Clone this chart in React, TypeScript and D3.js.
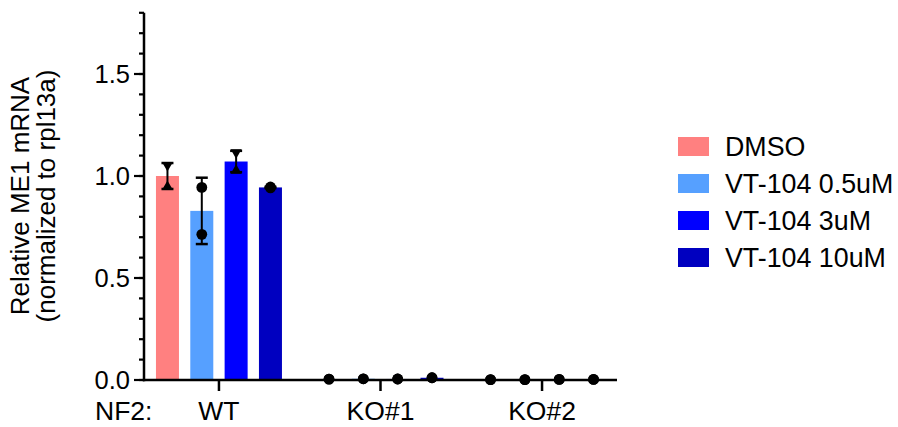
import React from "react";
import * as d3 from "d3";

// Cell lines (NF2 genotype) and treatment series
const groups = ["WT", "KO#1", "KO#2"];
const series = ["DMSO", "VT-104 0.5uM", "VT-104 3uM", "VT-104 10uM"];
const seriesColors = ["#FF8080", "#56A0FF", "#0000FF", "#0000C0"];
// replicate marker shapes per series: c = circle, u = triangle up, d = triangle down
const seriesMarkers = [["d", "u"], ["c", "c"], ["d", "u"], ["c", "c"]];

// replicate values: [group][series][replicate]
const replicates: number[][][] = [
  [[1.045, 0.955], [0.944, 0.714], [1.108, 1.034], [0.946, 0.942]],
  [[0.004, 0.004], [0.006, 0.006], [0.005, 0.005], [0.011, 0.011]],
  [[0.002, 0.002], [0.002, 0.002], [0.003, 0.003], [0.003, 0.003]],
];

const yMajorTicks = [0, 0.5, 1.0, 1.5];
const yMinorTicks = d3.range(0, 19).map((i) => i / 10);

const W = 898;
const H = 427;
const FONT = "'Liberation Sans', Arial, Helvetica, sans-serif";

export default function App() {
  const axisX = 144;
  const axisY = 380;
  const y = d3.scaleLinear().domain([0, 1.8]).range([axisY, axisY - 1.8 * 204]);
  const x0 = d3.scalePoint<string>().domain(groups).range([axisX, 617]).padding(0.464);
  const x1 = d3.scaleBand<string>().domain(series).range([-63, 63]).paddingInner(0.33).paddingOuter(0);
  const bw = x1.bandwidth();

  const tri = (cx: number, cy: number, dir: string) => {
    const hw = 5.5;
    const hh = 4.8;
    return dir === "u"
      ? `M${cx},${cy - hh}L${cx + hw},${cy + hh}L${cx - hw},${cy + hh}Z`
      : `M${cx},${cy + hh}L${cx + hw},${cy - hh}L${cx - hw},${cy - hh}Z`;
  };

  return (
    <svg
      width={W}
      height={H}
      style={{ position: "absolute", left: 0, top: 0, background: "#fff" }}
      fontFamily={FONT}
    >
      {/* bars, error bars and replicate points */}
      {groups.map((g, gi) => (
        <g key={g}>
          {series.map((s, si) => {
            const vals = replicates[gi][si];
            const mean = d3.mean(vals) as number;
            const sd = d3.deviation(vals) ?? 0;
            const cx = (x0(g) as number) + (x1(s) as number) + bw / 2;
            const capW = 12;
            return (
              <g key={s}>
                <rect
                  x={cx - bw / 2}
                  y={y(mean)}
                  width={bw}
                  height={axisY - y(mean)}
                  fill={seriesColors[si]}
                />
                {sd > 0.001 && (
                  <g>
                    <line x1={cx} x2={cx} y1={y(mean + sd)} y2={y(mean - sd)} stroke="#000" strokeWidth={2} />
                    <line x1={cx - capW / 2} x2={cx + capW / 2} y1={y(mean + sd)} y2={y(mean + sd)} stroke="#000" strokeWidth={2.5} />
                    <line x1={cx - capW / 2} x2={cx + capW / 2} y1={y(mean - sd)} y2={y(mean - sd)} stroke="#000" strokeWidth={2.5} />
                  </g>
                )}
                {vals.map((v, ri) => {
                  const m = seriesMarkers[si][ri];
                  return m === "c" || sd <= 0.001 ? (
                    <circle key={ri} cx={cx} cy={y(v)} r={5.4} fill="#000" />
                  ) : (
                    <path key={ri} d={tri(cx, y(v), m)} fill="#000" />
                  );
                })}
              </g>
            );
          })}
        </g>
      ))}

      {/* y axis */}
      <line x1={axisX} x2={axisX} y1={y(1.8)} y2={axisY + 1.2} stroke="#000" strokeWidth={2.5} />
      {yMinorTicks.map((t) => (
        <line key={"m" + t} x1={axisX - 5} x2={axisX} y1={y(t)} y2={y(t)} stroke="#000" strokeWidth={2.2} />
      ))}
      {yMajorTicks.map((t) => (
        <g key={"M" + t}>
          <line x1={axisX - 10} x2={axisX} y1={y(t)} y2={y(t)} stroke="#000" strokeWidth={2.2} />
          <text x={130} y={y(t)} dy="0.36em" textAnchor="end" fontSize={25.5} fill="#000">
            {d3.format(".1f")(t)}
          </text>
        </g>
      ))}

      {/* x axis */}
      <line x1={axisX - 1.2} x2={617} y1={axisY} y2={axisY} stroke="#000" strokeWidth={2.5} />
      {groups.map((g) => (
        <g key={"xt" + g}>
          <line x1={x0(g)} x2={x0(g)} y1={axisY} y2={axisY + 11} stroke="#000" strokeWidth={2.5} />
          <text x={x0(g)} y={420} textAnchor="middle" fontSize={26.5} fill="#000">
            {g}
          </text>
        </g>
      ))}
      <text x={95} y={420} fontSize={26.5} fill="#000">
        NF2:
      </text>

      {/* y axis title */}
      <g transform="translate(29,196) rotate(-90)">
        <text x={0} y={0} textAnchor="middle" fontSize={26} fill="#000">
          Relative ME1 mRNA
        </text>
        <text x={0} y={26} textAnchor="middle" fontSize={26} fill="#000">
          (normalized to rpl13a)
        </text>
      </g>

      {/* legend */}
      {series.map((s, si) => {
        const cy = 146.5 + si * 37;
        return (
          <g key={"lg" + s}>
            <rect x={678} y={cy - 9.5} width={31} height={19} fill={seriesColors[si]} />
            <text x={725} y={cy} dy="0.36em" fontSize={26.8} fill="#000">
              {s}
            </text>
          </g>
        );
      })}
    </svg>
  );
}
